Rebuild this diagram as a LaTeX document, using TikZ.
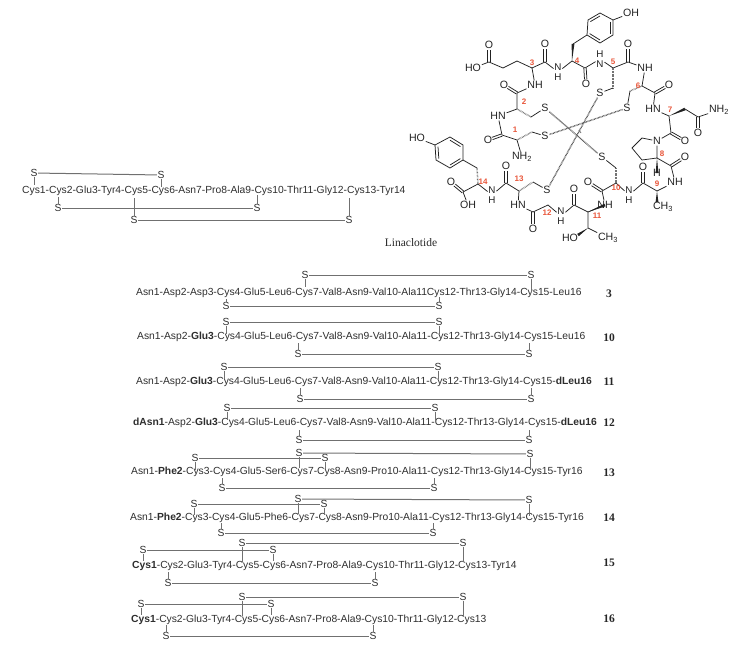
\documentclass[tikz,border=0pt]{standalone}
\usepackage{fontspec}
\setmainfont{Liberation Sans}
\newfontfamily\serifface{Liberation Serif}
\usetikzlibrary{calc}
\definecolor{seqtext}{HTML}{2E2E2E}
\definecolor{seqline}{HTML}{707070}
\definecolor{bondcol}{HTML}{222222}
\definecolor{numred}{HTML}{E8563A}
\tikzset{
  x=1pt,y=-1pt,
  seq/.style={anchor=west,inner sep=0pt,text=seqtext,font=\fontsize{10.3}{12}\selectfont},
  sulf/.style={inner sep=0.6pt,text=seqtext,font=\fontsize{10.3}{12}\selectfont},
  link/.style={draw=seqline,line width=1pt},
  tick/.style={draw=seqline,line width=0.7pt},
  cmpd/.style={inner sep=0pt,text=black!85,font=\serifface\bfseries\fontsize{11.5}{13}\selectfont},
  atom/.style={inner sep=0.7pt,text=bondcol,font=\fontsize{10.6}{12}\selectfont},
  stacked/.style={inner sep=0.7pt,text=bondcol,align=center,font=\fontsize{9.8}{10.5}\selectfont},
  num/.style={inner sep=0pt,text=numred,font=\bfseries\fontsize{8}{9}\selectfont},
  bond/.style={draw=bondcol,line width=0.75pt},
  ssb/.style={draw=black!68,line width=1.4pt,dash pattern=on 0.7pt off 0.7pt},
  hash/.style={draw=black!55,line width=1.5pt,dash pattern=on 0.6pt off 0.8pt},
}
\newcommand{\wdg}[2]{\fill[bondcol] (#1) -- ($(#2)!1.4pt!90:(#1)$) -- ($(#2)!1.4pt!-90:(#1)$) -- cycle;}
\newcommand{\dbo}[2]{%
  \coordinate (dbtmp) at ($(#1)!0.7!(#2)$);
  \draw[bond] ($(#1)!1.2pt!90:(dbtmp)$) -- ($(dbtmp)!1.2pt!-90:(#1)$);
  \draw[bond] ($(#1)!1.2pt!-90:(dbtmp)$) -- ($(dbtmp)!1.2pt!90:(#1)$);}
\newcommand{\rng}[7]{%
  \draw[bond] (#1)--(#2)--(#3)--(#4)--(#5)--(#6)--cycle;
  \draw[bond] ($(#2)!0.2!(#7)$)--($(#3)!0.2!(#7)$);
  \draw[bond] ($(#4)!0.2!(#7)$)--($(#5)!0.2!(#7)$);
  \draw[bond] ($(#6)!0.2!(#7)$)--($(#1)!0.2!(#7)$);}
\begin{document}
\begin{tikzpicture}
\useasboundingbox (0,0) rectangle (743,661);
% ---------- top-left sequence
\node[seq] (t0) at (22,191) {Cys1-Cys2-Glu3-Tyr4-Cys5-Cys6-Asn7-Pro8-Ala9-Cys10-Thr11-Gly12-Cys13-Tyr14};
\node[sulf] (ta) at (34,173) {S}; \node[sulf] (tb) at (161,175) {S};
\node[sulf] (tc) at (58,208) {S}; \node[sulf] (td) at (257,208) {S};
\node[sulf] (te) at (134,220) {S}; \node[sulf] (tf) at (349,220) {S};
\coordinate (ta1) at (34,185); \coordinate (tb1) at (161,187);
\coordinate (tc1) at (58,197); \coordinate (td1) at (257,195);
\coordinate (te1) at (134,198); \coordinate (tf1) at (349,198);
\draw[link] (ta) -- (tb); \draw[link] (tc) -- (td); \draw[link] (te) -- (tf);
\draw[tick] (ta)--(ta1); \draw[tick] (tb)--(tb1); \draw[tick] (tc)--(tc1);
\draw[tick] (td)--(td1); \draw[tick] (te)--(te1); \draw[tick] (tf)--(tf1);
% ---------- title
\node[inner sep=0pt,text=black!85,font=\serifface\fontsize{11.5}{13}\selectfont] (title) at (411,243) {Linaclotide};
% ---------- peptide 3
\node[seq] (s3) at (136,293) {Asn1-Asp2-Asp3-Cys4-Glu5-Leu6-Cys7-Val8-Asn9-Val10-Ala11Cys12-Thr13-Gly14-Cys15-Leu16};
\node[cmpd] (n3) at (609,294) {3};
\node[sulf] (a3a) at (305,275) {S}; \node[sulf] (a3b) at (531,275) {S};
\node[sulf] (a3c) at (226,306) {S}; \node[sulf] (a3d) at (439,306) {S};
\coordinate (a3e) at (305,287); \coordinate (a3f) at (531,292);
\coordinate (a3g) at (226,299); \coordinate (a3h) at (439,297);
\draw[link] (a3a)--(a3b); \draw[link] (a3c)--(a3d);
\draw[tick] (a3a)--(a3e); \draw[tick] (a3b)--(a3f); \draw[tick] (a3c)--(a3g); \draw[tick] (a3d)--(a3h);
% ---------- peptide 10
\node[seq] (s10) at (137,337) {Asn1-Asp2-\textbf{Glu3}-Cys4-Glu5-Leu6-Cys7-Val8-Asn9-Val10-Ala11-Cys12-Thr13-Gly14-Cys15-Leu16};
\node[cmpd] (n10) at (609,338) {10};
\node[sulf] (a10a) at (226,322) {S}; \node[sulf] (a10b) at (439,322) {S};
\node[sulf] (a10c) at (298,354) {S}; \node[sulf] (a10d) at (529,354) {S};
\coordinate (a10e) at (226,334); \coordinate (a10f) at (439,334);
\coordinate (a10g) at (298,343); \coordinate (a10h) at (529,343);
\draw[link] (a10a)--(a10b); \draw[link] (a10c)--(a10d);
\draw[tick] (a10a)--(a10e); \draw[tick] (a10b)--(a10f); \draw[tick] (a10c)--(a10g); \draw[tick] (a10d)--(a10h);
% ---------- peptide 11
\node[seq] (s11) at (136,382) {Asn1-Asp2-\textbf{Glu3}-Cys4-Glu5-Leu6-Cys7-Val8-Asn9-Val10-Ala11-Cys12-Thr13-Gly14-Cys15-\textbf{dLeu16}};
\node[cmpd] (n11) at (609,382) {11};
\node[sulf] (a11a) at (224,367) {S}; \node[sulf] (a11b) at (438,367) {S};
\node[sulf] (a11c) at (300,399) {S}; \node[sulf] (a11d) at (531,399) {S};
\coordinate (a11e) at (224,379); \coordinate (a11f) at (438,379);
\coordinate (a11g) at (300,388); \coordinate (a11h) at (531,388);
\draw[link] (a11a)--(a11b); \draw[link] (a11c)--(a11d);
\draw[tick] (a11a)--(a11e); \draw[tick] (a11b)--(a11f); \draw[tick] (a11c)--(a11g); \draw[tick] (a11d)--(a11h);
% ---------- peptide 12
\node[seq] (s12) at (133,423) {\textbf{dAsn1}-Asp2-\textbf{Glu3}-Cys4-Glu5-Leu6-Cys7-Val8-Asn9-Val10-Ala11-Cys12-Thr13-Gly14-Cys15-\textbf{dLeu16}};
\node[cmpd] (n12) at (609,423) {12};
\node[sulf] (a12a) at (227,408) {S}; \node[sulf] (a12b) at (435,408) {S};
\node[sulf] (a12c) at (299,440) {S}; \node[sulf] (a12d) at (529,440) {S};
\coordinate (a12e) at (227,420); \coordinate (a12f) at (435,421);
\coordinate (a12g) at (299,430); \coordinate (a12h) at (529,430);
\draw[link] (a12a)--(a12b); \draw[link] (a12c)--(a12d);
\draw[tick] (a12a)--(a12e); \draw[tick] (a12b)--(a12f); \draw[tick] (a12c)--(a12g); \draw[tick] (a12d)--(a12h);
% ---------- peptide 13
\node[seq] (s13) at (131,472) {Asn1-\textbf{Phe2}-Cys3-Cys4-Glu5-Ser6-Cys7-Cys8-Asn9-Pro10-Ala11-Cys12-Thr13-Gly14-Cys15-Tyr16};
\node[cmpd] (n13) at (609,473) {13};
\node[sulf] (a13a) at (299,453) {S}; \node[sulf] (a13b) at (530,454) {S};
\node[sulf] (a13c) at (195,458) {S}; \node[sulf] (a13d) at (325,458) {S};
\node[sulf] (a13i) at (222,488) {S}; \node[sulf] (a13j) at (434,488) {S};
\coordinate (a13e) at (299,468); \coordinate (a13f) at (530,470);
\coordinate (a13g) at (195,470); \coordinate (a13h) at (325,469);
\coordinate (a13k) at (222,478); \coordinate (a13l) at (434,478);
\draw[link] (a13a)--(a13b); \draw[link] (a13c)--(a13d); \draw[link] (a13i)--(a13j);
\draw[tick] (a13a)--(a13e); \draw[tick] (a13b)--(a13f); \draw[tick] (a13c)--(a13g);
\draw[tick] (a13d)--(a13h); \draw[tick] (a13i)--(a13k); \draw[tick] (a13j)--(a13l);
% ---------- peptide 14
\node[seq] (s14) at (130,518) {Asn1-\textbf{Phe2}-Cys3-Cys4-Glu5-Phe6-Cys7-Cys8-Asn9-Pro10-Ala11-Cys12-Thr13-Gly14-Cys15-Tyr16};
\node[cmpd] (n14) at (609,518) {14};
\node[sulf] (a14a) at (298,499) {S}; \node[sulf] (a14b) at (529,500) {S};
\node[sulf] (a14c) at (194,504) {S}; \node[sulf] (a14d) at (324,504) {S};
\node[sulf] (a14i) at (221,533) {S}; \node[sulf] (a14j) at (433,533) {S};
\coordinate (a14e) at (298,514); \coordinate (a14f) at (529,516);
\coordinate (a14g) at (194,515); \coordinate (a14h) at (324,515);
\coordinate (a14k) at (221,523); \coordinate (a14l) at (433,523);
\draw[link] (a14a)--(a14b); \draw[link] (a14c)--(a14d); \draw[link] (a14i)--(a14j);
\draw[tick] (a14a)--(a14e); \draw[tick] (a14b)--(a14f); \draw[tick] (a14c)--(a14g);
\draw[tick] (a14d)--(a14h); \draw[tick] (a14i)--(a14k); \draw[tick] (a14j)--(a14l);
% ---------- peptide 15
\node[seq] (s15) at (132,566) {\textbf{Cys1}-Cys2-Glu3-Tyr4-Cys5-Cys6-Asn7-Pro8-Ala9-Cys10-Thr11-Gly12-Cys13-Tyr14};
\node[cmpd] (n15) at (609,563) {15};
\node[sulf] (a15a) at (242,543) {S}; \node[sulf] (a15b) at (463,543) {S};
\node[sulf] (a15c) at (143,550) {S}; \node[sulf] (a15d) at (273,550) {S};
\node[sulf] (a15i) at (168,583) {S}; \node[sulf] (a15j) at (375,583) {S};
\coordinate (a15e) at (242,562); \coordinate (a15f) at (463,562);
\coordinate (a15g) at (143,561); \coordinate (a15h) at (273,561);
\coordinate (a15k) at (168,572); \coordinate (a15l) at (375,572);
\draw[link] (a15a)--(a15b); \draw[link] (a15c)--(a15d); \draw[link] (a15i)--(a15j);
\draw[tick] (a15a)--(a15e); \draw[tick] (a15b)--(a15f); \draw[tick] (a15c)--(a15g);
\draw[tick] (a15d)--(a15h); \draw[tick] (a15i)--(a15k); \draw[tick] (a15j)--(a15l);
% ---------- peptide 16
\node[seq] (s16) at (131,620) {\textbf{Cys1}-Cys2-Glu3-Tyr4-Cys5-Cys6-Asn7-Pro8-Ala9-Cys10-Thr11-Gly12-Cys13};
\node[cmpd] (n16) at (609,619) {16};
\node[sulf] (a16a) at (242,597) {S}; \node[sulf] (a16b) at (463,597) {S};
\node[sulf] (a16c) at (141,604) {S}; \node[sulf] (a16d) at (271,604) {S};
\node[sulf] (a16i) at (166,636) {S}; \node[sulf] (a16j) at (373,636) {S};
\coordinate (a16e) at (242,616); \coordinate (a16f) at (463,616);
\coordinate (a16g) at (141,615); \coordinate (a16h) at (271,615);
\coordinate (a16k) at (166,625); \coordinate (a16l) at (373,625);
\draw[link] (a16a)--(a16b); \draw[link] (a16c)--(a16d); \draw[link] (a16i)--(a16j);
\draw[tick] (a16a)--(a16e); \draw[tick] (a16b)--(a16f); \draw[tick] (a16c)--(a16g);
\draw[tick] (a16d)--(a16h); \draw[tick] (a16i)--(a16k); \draw[tick] (a16j)--(a16l);
% ---------- molecule: atoms
\node[atom] (ho1) at (473,68) {HO};
\node[atom] (o1) at (489,45) {O};
\node[atom] (o3) at (545,44) {O};
\node[stacked] (n3h) at (558,72) {N\\H};
\node[atom] (oh4) at (631,13) {OH};
\node[atom] (o4) at (586,84) {O};
\node[stacked] (n5) at (600,59) {H\\N};
\node[atom] (o5) at (628,44) {O};
\node[atom] (nh6) at (645,68) {NH};
\node[atom] (o6) at (669,85) {O};
\node[atom] (hn7) at (653,109) {HN};
\node[atom] (nh2a) at (719,110) {NH\textsubscript{2}};
\node[atom] (o7a) at (698,133) {O};
\node[atom] (nh3) at (535,85) {NH};
\node[atom] (o2) at (504,85) {O};
\node[atom] (hn2) at (498,116) {HN};
\node[atom] (o1c) at (488,140) {O};
\node[atom] (nh2b) at (522,157) {NH\textsubscript{2}};
\node[atom] (ho14) at (417,138) {HO};
\node[atom] (o14) at (451,182) {O};
\node[atom] (oh14) at (468,205) {OH};
\node[stacked] (n14h) at (492,195) {N\\H};
\node[atom] (o13) at (506,166) {O};
\node[atom] (nh13) at (518,205) {HN};
\node[atom] (o12) at (533,229) {O};
\node[stacked] (n12h) at (561,216) {N\\H};
\node[atom] (o12b) at (574,189) {O};
\node[atom] (nh11) at (605,205) {NH};
\node[atom] (o10) at (588,182) {O};
\node[stacked] (n10h) at (629,195) {N\\H};
\node[atom] (o9) at (643,167) {O};
\node[atom] (ch39) at (663,207) {CH\textsubscript{3}};
\node[atom] (nh9) at (675,182) {NH};
\node[atom] (o8) at (685,157) {O};
\node[atom] (h8) at (657,173) {H};
\node[atom] (n8) at (657,141) {N};
\node[atom] (o7b) at (685,141) {O};
\node[atom] (ho11) at (570,238) {HO};
\node[atom] (ch311) at (608,238) {CH\textsubscript{3}};
\node[atom] (s2) at (545,108) {S};
\node[atom] (s1) at (545,136) {S};
\node[atom] (s5) at (600,93) {S};
\node[atom] (s6) at (627,108) {S};
\node[atom] (s13) at (547,190) {S};
\node[atom] (s10) at (602,157) {S};
% ---------- molecule: skeleton points
\coordinate (c1) at (489,62); \coordinate (c2) at (503,68); \coordinate (c3) at (517,61);
\coordinate (ca3) at (532,68); \coordinate (co3) at (545,62);
\coordinate (ca4) at (572,61); \coordinate (cb4) at (573,44);
\coordinate (r1) at (587,35); \coordinate (r2) at (588,20); \coordinate (r3) at (600,13);
\coordinate (r4) at (613,20); \coordinate (r5) at (613,35); \coordinate (r6) at (600,43);
\coordinate (rc) at (600,28);
\coordinate (co4) at (585,68); \coordinate (ca5) at (613,68); \coordinate (cb5) at (613,88);
\coordinate (co5) at (628,62); \coordinate (ca6) at (642,86); \coordinate (cb6) at (630,91);
\coordinate (co6) at (655,93); \coordinate (ca7) at (669,116); \coordinate (cb7) at (685,109);
\coordinate (cg7) at (698,117); \coordinate (co7) at (671,133);
\coordinate (co2) at (517,93); \coordinate (ca2) at (517,109); \coordinate (cb2) at (531,117);
\coordinate (co1) at (502,135); \coordinate (ca1) at (517,140); \coordinate (cb1) at (532,132);
\coordinate (q1) at (435,145); \coordinate (q2) at (450,137); \coordinate (q3) at (463,145);
\coordinate (q4) at (463,160); \coordinate (q5) at (450,168); \coordinate (q6) at (436,160);
\coordinate (qc) at (450,153);
\coordinate (cb14) at (477,168); \coordinate (ca14) at (478,184); \coordinate (co14) at (463,192);
\coordinate (co13) at (506,183); \coordinate (ca13) at (519,191); \coordinate (cb13) at (533,182);
\coordinate (co12) at (533,212); \coordinate (ca12) at (548,205); \coordinate (co11) at (574,205);
\coordinate (ca11) at (588,212); \coordinate (co10) at (602,191); \coordinate (ca10) at (616,183);
\coordinate (cb10) at (616,168); \coordinate (co9) at (643,183); \coordinate (ca9) at (657,191);
\coordinate (cb9) at (657,202); \coordinate (co8) at (671,166); \coordinate (ca8) at (657,158);
\coordinate (p1) at (642,138); \coordinate (p2) at (632,148); \coordinate (p3) at (642,160);
\coordinate (cb11) at (588,228); \coordinate (hw) at (578,235);
\coordinate (ssa) at (579,130); \coordinate (ssb) at (581,133);
% ---------- molecule: bonds
\draw[bond] (ho1)--(c1)--(c2)--(c3)--(ca3)--(co3)--(n3h)--(ca4);
\dbo{c1}{o1} \dbo{co3}{o3}
\wdg{ca4}{cb4}
\draw[bond] (cb4)--(r1);
\rng{r1}{r2}{r3}{r4}{r5}{r6}{rc}
\draw[bond] (r4)--(oh4);
\draw[bond] (ca4)--(co4)--(n5)--(ca5)--(co5)--(nh6)--(ca6)--(co6)--(hn7)--(ca7);
\dbo{co4}{o4} \dbo{co5}{o5} \dbo{co6}{o6}
\draw[hash] (ca5)--(cb5); \draw[bond] (cb5)--(s5);
\draw[hash] (ca6)--(cb6); \draw[bond] (cb6)--(s6);
\wdg{ca7}{cb7}
\draw[bond] (cb7)--(cg7)--(nh2a);
\dbo{cg7}{o7a}
\draw[bond] (ca7)--(co7)--(n8)--(p1)--(p2)--(p3)--(ca8)--(n8);
\dbo{co7}{o7b}
\draw[bond] (ca3)--(nh3)--(co2)--(ca2)--(hn2)--(co1)--(ca1)--(nh2b);
\dbo{co2}{o2} \dbo{co1}{o1c}
\draw[hash] (ca2)--(cb2); \draw[bond] (cb2)--(s2);
\draw[hash] (ca1)--(cb1); \draw[bond] (cb1)--(s1);
\rng{q1}{q2}{q3}{q4}{q5}{q6}{qc}
\draw[bond] (q1)--(ho14); \draw[bond] (q4)--(cb14);
\draw[hash] (cb14)--(ca14);
\draw[bond] (ca14)--(co14)--(oh14);
\dbo{co14}{o14}
\draw[bond] (ca14)--(n14h)--(co13)--(ca13)--(nh13)--(co12)--(ca12)--(n12h)--(co11)--(ca11)--(nh11)--(co10)--(ca10)--(n10h)--(co9)--(ca9)--(nh9)--(co8)--(ca8);
\dbo{co13}{o13} \dbo{co12}{o12} \dbo{co11}{o12b}
\dbo{co10}{o10} \dbo{co9}{o9} \dbo{co8}{o8}
\draw[hash] (ca13)--(cb13); \draw[bond] (cb13)--(s13);
\draw[hash] (ca10)--(cb10); \draw[bond] (cb10)--(s10);
\wdg{ca9}{cb9}
\draw[bond] (cb9)--(ch39);
\wdg{ca8}{h8}
\wdg{ca11}{nh11}
\draw[bond] (ca11)--(cb11)--(ch311);
\wdg{cb11}{hw}
\draw[bond] (hw)--(ho11);
% ---------- molecule: disulfide links
\draw[ssb] (s2)--(s10);
\draw[ssb] (s5)--(s13);
\draw[ssb] (s6)--(s1);
\draw[bond,draw=black!55] (ssa)--(ssb);
% ---------- residue numbers
\node[num] (l1) at (515,130) {1};
\node[num] (l2) at (524,102) {2};
\node[num] (l3) at (532,63) {3};
\node[num] (l4) at (577,61) {4};
\node[num] (l5) at (613,62) {5};
\node[num] (l6) at (638,86) {6};
\node[num] (l7) at (670,110) {7};
\node[num] (l8) at (662,154) {8};
\node[num] (l9) at (657,184) {9};
\node[num] (l10) at (616,188) {10};
\node[num] (l11) at (597,216) {11};
\node[num] (l12) at (547,213) {12};
\node[num] (l13) at (519,179) {13};
\node[num] (l14) at (483,182) {14};
\end{tikzpicture}
\end{document}
